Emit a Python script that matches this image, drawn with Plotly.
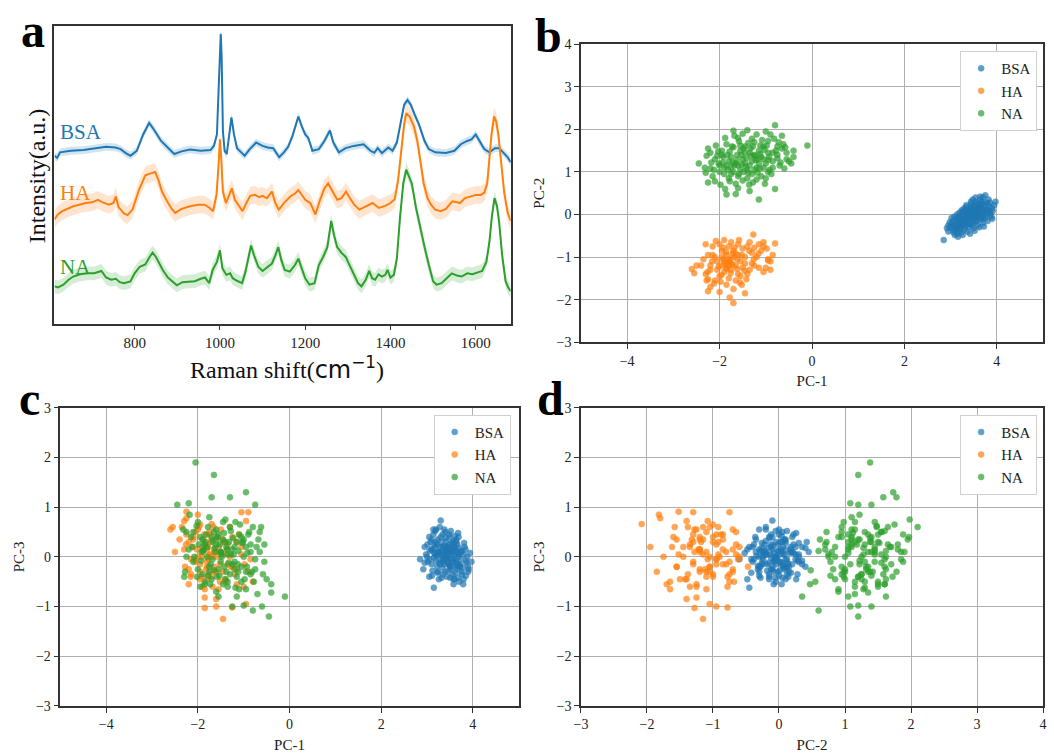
import plotly.graph_objects as go

# ---------------- Panel a: mean Raman spectra (offset, arbitrary units) ----------------
bsa_x = [612, 618, 625, 650, 680, 710, 733, 755, 767, 780, 790, 805, 820, 834, 845, 862, 880, 893, 910, 930,
         955, 978, 986, 993, 997, 1000, 1002, 1004, 1007, 1011, 1016, 1021, 1027, 1033, 1040, 1050, 1058, 1070,
         1085, 1100, 1112, 1125, 1139, 1150, 1160, 1170, 1184, 1192, 1200, 1207, 1217, 1232, 1245, 1258, 1266,
         1279, 1295, 1314, 1337, 1353, 1362, 1370, 1380, 1395, 1405, 1415, 1425, 1432, 1440, 1448, 1457, 1467,
         1480, 1490, 1505, 1530, 1550, 1565, 1580, 1590, 1600, 1610, 1620, 1632, 1645, 1655, 1665, 1675, 1682]
bsa_y = [171.3, 169, 174.7, 176.3, 177, 179, 180.3, 179.7, 178, 173.7, 171.3, 176.3, 193, 204.7, 198, 186.3,
         178, 173, 175.7, 177.7, 176.3, 177, 181.3, 193, 239.7, 289.7, 295.7, 273, 196.3, 176.3, 173, 189.7,
         210.3, 193, 179, 174.7, 171.3, 178, 184.7, 181.3, 179.7, 179, 169.7, 174.7, 180.3, 191.3, 211.3, 201.3,
         193, 189.7, 176.3, 178, 186.3, 197, 184.7, 174.7, 179, 181.3, 183, 176.3, 174.3, 179, 174, 179.7, 176.3,
         184.7, 209.7, 223, 228, 223, 213, 203, 186.3, 178, 174.7, 174, 176.3, 183, 186.3, 188, 193, 184.7, 178,
         174.7, 179, 179, 174.7, 169.7, 164.7]

ha_x = [612, 620, 630, 645, 656, 670, 685, 700, 714, 725, 740, 750, 756, 762, 775, 783, 795, 810, 825, 836,
        848, 856, 864, 876, 887, 895, 910, 930, 949, 964, 976, 984, 992, 997, 1000, 1003, 1007, 1014, 1021, 1028,
        1035, 1045, 1053, 1062, 1071, 1082, 1092, 1100, 1110, 1122, 1130, 1138, 1150, 1165, 1177, 1184, 1192,
        1200, 1212, 1224, 1235, 1245, 1254, 1264, 1275, 1285, 1296, 1305, 1315, 1327, 1340, 1358, 1373, 1389,
        1400, 1410, 1418, 1425, 1432, 1437, 1445, 1455, 1463, 1470, 1478, 1487, 1495, 1505, 1518, 1530, 1545,
        1556, 1563, 1575, 1590, 1600, 1612, 1620, 1627, 1632, 1637, 1643, 1648, 1653, 1660, 1667, 1675, 1682]
ha_y = [106.3, 111.3, 114.7, 118, 119.7, 121.3, 123, 123.7, 126.3, 123.7, 121.3, 123, 129.7, 119, 112.3, 110.7,
        116.3, 136.3, 151.3, 153, 154.7, 146.3, 134.7, 124.7, 117, 113, 117, 119.7, 121.3, 121.3, 118, 114.7,
        131.3, 163, 188, 169.7, 134.7, 123, 129.7, 138, 126.3, 119.7, 114.7, 123, 130.3, 131.3, 129, 130.3, 128,
        134.7, 123, 116.3, 123, 129.7, 133, 136.3, 131.3, 126.3, 123, 111.3, 126.3, 138, 143, 134.7, 126.3, 128,
        134.7, 128, 121.3, 116.3, 119, 123, 118, 120.3, 123, 127, 146.3, 176.3, 203, 214.7, 211.3, 201.3, 186.3,
        166.3, 143, 128, 121.3, 116.3, 114.7, 117, 124.7, 123.7, 123, 128, 129.7, 131.3, 131.3, 133.7, 143,
        166.3, 193, 211.3, 206.3, 193, 163, 133, 113, 104.7]

na_x = [612, 620, 633, 645, 656, 672, 690, 705, 722, 733, 745, 756, 765, 775, 790, 800, 812, 825, 835, 842,
        850, 858, 866, 878, 890, 899, 912, 925, 941, 955, 965, 975, 983, 993, 1000, 1006, 1015, 1024, 1030, 1040,
        1052, 1060, 1066, 1073, 1080, 1090, 1100, 1112, 1122, 1130, 1137, 1144, 1152, 1164, 1176, 1184, 1192,
        1200, 1210, 1222, 1232, 1242, 1252, 1261, 1268, 1275, 1285, 1295, 1304, 1315, 1324, 1332, 1342, 1350,
        1357, 1364, 1372, 1380, 1388, 1393, 1400, 1408, 1415, 1422, 1430, 1437, 1443, 1450, 1460, 1470, 1480,
        1490, 1500, 1508, 1520, 1532, 1544, 1556, 1567, 1580, 1592, 1605, 1615, 1625, 1632, 1638, 1644, 1650,
        1655, 1662, 1670, 1676, 1682]
na_y = [38, 37, 39.7, 44.7, 48, 50.3, 51.3, 51.3, 53.7, 47, 44.7, 45.7, 42.3, 41.3, 43, 51.3, 58, 60.3, 68, 72.3,
        68, 61.3, 54.7, 47, 42.3, 39, 42.3, 43, 43.3, 45.7, 47, 41.3, 54.7, 63, 74.7, 56.3, 49.7, 51.3, 46.3, 43.7,
        41.3, 53, 66.3, 79.7, 69.7, 58, 53.7, 58, 61.3, 69.7, 78, 64.7, 54.7, 53, 59.7, 66.3, 56.3, 46.3, 39.7,
        41.3, 59.7, 68, 78, 104.7, 89.7, 78, 72.3, 68, 59.7, 49.7, 41.3, 38, 44.7, 53.7, 46.3, 44.7, 50.3, 48,
        49.7, 54.7, 47, 49.7, 66.3, 106.3, 143, 157, 151.3, 143, 118, 96.3, 78, 59.7, 43.3, 39.7, 41.3, 46.3,
        51.3, 49, 48, 51.3, 50.3, 52.3, 53.7, 63, 83, 109.7, 128, 119.7, 103, 69.7, 43.3, 37, 33]

spectra_names = ["BSA", "HA", "NA"]
spectra_spread = [4, 9, 7]          # half-width of the shaded (std) band
spectra_label_y = [195, 133, 58]    # vertical position of the in-plot labels

# ---------------- PCA scores (PC-1, PC-2, PC-3) per sample ----------------
bsa_pc1 = [2.85, 3.75, 3.97, 3.10, 3.20, 3.30, 3.05, 3.15, 3.60, 3.85, 3.70, 3.40, 3.50, 3.25, 3.35, 3.45, 3.55,
           3.65, 3.28, 3.38, 3.48, 3.58, 3.18, 3.22, 3.32, 3.42, 3.52, 3.62, 3.72, 3.12, 3.00, 2.95, 3.08, 3.80,
           3.90, 3.68, 3.60, 3.50, 3.40, 3.30, 3.26, 3.36, 3.46, 3.56, 3.66, 3.76, 3.86, 3.14, 3.24, 3.34, 3.44,
           3.54, 3.64, 3.70, 3.20, 3.30, 3.40, 3.50, 3.60, 3.10, 3.16, 3.06, 2.98, 2.92, 3.44, 3.34, 3.24, 3.54,
           3.64, 3.74, 3.84, 3.94, 3.48, 3.38, 3.28, 3.18, 3.58, 3.68, 3.78, 3.88, 3.32, 3.42, 3.52, 3.62, 3.22,
           3.12, 3.02, 3.46, 3.56, 3.36, 3.26, 3.66, 3.76, 3.82, 3.16, 3.06, 3.70, 3.80, 3.90, 3.48,
           3.33, 3.43, 3.53, 3.63, 3.37, 3.47, 3.57, 3.27, 3.17, 3.67, 3.41, 3.51, 3.61, 3.31, 3.21, 3.71, 3.81,
           3.11, 3.01, 3.91, 3.35, 3.45, 3.55, 3.65, 3.25, 3.15, 3.75, 3.85, 3.05, 2.95, 3.39, 3.49, 3.59, 3.29,
           3.19, 3.69, 3.79, 3.09, 3.23, 3.44, 3.54, 3.64, 3.34, 3.14, 3.58, 3.68, 3.42, 3.52, 3.62, 3.72]
bsa_pc2 = [-0.60, 0.45, 0.30, -0.35, -0.20, -0.10, -0.15, -0.45, 0.10, 0.00, -0.05, 0.05, 0.20, -0.25, -0.05,
           0.00, 0.08, 0.15, -0.12, -0.18, -0.02, 0.12, -0.22, -0.30, 0.02, 0.10, -0.10, 0.00, 0.20, -0.10, -0.30,
           -0.40, -0.05, 0.25, 0.15, 0.30, 0.25, -0.20, -0.30, -0.35, -0.48, -0.40, -0.25, -0.15, -0.12, -0.08,
           0.05, 0.00, 0.10, 0.18, 0.25, 0.30, 0.35, 0.40, -0.08, -0.15, -0.08, 0.05, -0.02, -0.25, -0.38, -0.28,
           -0.18, -0.32, 0.14, 0.08, -0.02, 0.20, 0.08, 0.10, 0.18, 0.22, -0.12, 0.00, -0.20, -0.05, -0.08, 0.05,
           0.12, -0.05, -0.28, -0.20, 0.12, 0.18, -0.12, -0.18, -0.08, 0.06, 0.02, -0.06, 0.04, 0.22, 0.28, 0.35,
           -0.52, -0.42, -0.20, -0.15, -0.10, 0.35,
           -0.13, -0.03, 0.03, 0.13, -0.09, 0.01, 0.09, -0.16, -0.26, 0.16, -0.14, -0.06, 0.04, -0.24, -0.34, 0.06,
           0.10, -0.30, -0.22, 0.08, 0.12, 0.18, -0.16, -0.04, 0.06, -0.12, -0.02, 0.28, -0.36, -0.26, -0.22,
           -0.32, -0.26, 0.14, 0.04, -0.10, 0.04, -0.48, -0.42, 0.30, 0.40, 0.42, 0.22, -0.30, 0.26, 0.26, -0.45,
           -0.38, -0.30, -0.28]
bsa_pc3 = [-0.05, 0.10, -0.10, 0.35, 0.55, 0.73, -0.40, -0.62, -0.45, -0.38, -0.50, 0.50, 0.40, 0.10, 0.00,
           -0.10, 0.05, -0.20, 0.20, -0.15, 0.25, -0.05, 0.05, -0.20, 0.30, 0.15, -0.25, 0.12, -0.15, 0.15, 0.00,
           0.20, 0.30, 0.05, -0.30, 0.00, 0.20, 0.10, -0.30, 0.10, -0.45, -0.10, 0.00, -0.35, -0.25, -0.30, -0.12,
           0.45, 0.35, 0.20, -0.05, 0.28, -0.08, 0.18, -0.08, 0.40, 0.08, -0.18, 0.02, -0.15, 0.25, 0.12, 0.05,
           -0.25, -0.40, -0.22, -0.30, 0.10, 0.35, -0.05, 0.15, 0.08, 0.45, 0.55, 0.60, 0.52, -0.55, -0.42, -0.22,
           0.00, -0.42, 0.32, 0.52, -0.32, 0.25, -0.28, -0.10, 0.20, -0.10, -0.05, 0.10, 0.25, -0.35, 0.20, 0.08,
           -0.05, 0.05, -0.45, -0.20, -0.15,
           0.05, -0.02, 0.15, -0.12, 0.22, -0.28, 0.32, -0.12, 0.18, 0.08, 0.38, -0.42, 0.42, -0.05, 0.02, -0.18,
           0.28, -0.38, 0.25, -0.25, -0.35, 0.10, 0.18, -0.15, 0.05, -0.02, 0.12, -0.08, 0.40, -0.12, 0.12, -0.18,
           0.28, -0.15, 0.30, 0.40, -0.55, 0.15, -0.32, 0.05, -0.20, 0.30, 0.45, 0.55, -0.45, 0.48, 0.20, -0.05,
           0.15, -0.20]

ha_pc1 = [-1.70, -2.60, -2.55, -2.50, -2.25, -2.00, -1.45, -1.27, -0.80, -0.90, -0.95, -2.25, -1.05, -1.45,
          -1.85, -1.60, -1.25, -0.95, -2.20, -1.85, -2.30, -2.20, -2.10, -2.00, -1.90, -1.80, -1.70, -1.60, -1.50,
          -1.40, -1.30, -1.20, -1.10, -1.00, -1.90, -1.80, -1.75, -1.85, -1.70, -1.65, -1.95, -2.05, -2.15, -1.55,
          -1.45, -1.35, -1.60, -1.80, -2.00, -2.10, -1.90, -1.75, -1.65, -1.55, -1.85, -1.70, -2.20, -2.35, -2.30,
          -2.25, -2.15, -1.95, -1.75, -1.58, -1.35, -1.15, -1.05, -0.85, -1.25, -1.40, -1.30, -1.15, -1.05, -0.90,
          -1.50, -1.95, -2.05, -2.40, -1.80, -1.78, -1.88, -1.72, -1.62, -1.92, -2.12, -1.52, -1.42, -2.28, -1.98,
          -1.68,
          -1.82, -1.72, -1.92, -1.62, -1.52, -2.02, -1.86, -1.76, -1.66, -1.96, -1.46, -2.16, -1.36, -1.26, -2.26,
          -1.56, -1.16, -0.98, -1.78, -2.08]
ha_pc2 = [-2.08, -1.28, -1.38, -1.20, -1.80, -1.82, -1.85, -0.47, -0.68, -1.30, -1.08, -1.52, -0.75, -1.15,
          -1.28, -0.95, -0.78, -1.05, -1.70, -1.25, -1.40, -1.30, -1.00, -0.70, -0.60, -0.75, -0.85, -0.70, -0.80,
          -0.75, -0.90, -1.00, -0.85, -1.25, -1.10, -1.05, -1.15, -0.95, -1.00, -1.20, -1.20, -1.10, -0.95, -1.10,
          -1.00, -1.30, -1.40, -1.50, -1.45, -1.55, -1.35, -1.30, -1.55, -1.45, -1.65, -1.75, -1.20, -1.05, -0.70,
          -0.95, -0.75, -0.85, -0.65, -0.60, -0.65, -0.70, -0.65, -0.95, -1.20, -1.40, -1.15, -1.25, -1.35, -1.10,
          -1.25, -1.00, -1.30, -1.20, -1.20, -1.08, -1.15, -0.92, -1.05, -0.78, -1.62, -1.65, -1.52, -1.55, -1.58,
          -0.78,
          -1.12, -1.18, -1.05, -1.28, -0.95, -1.22, -0.88, -1.38, -0.92, -1.42, -1.32, -1.10, -0.85, -1.05, -1.35,
          -1.60, -0.92, -0.80, -1.95, -0.62]
ha_pc3 = [0.66, 0.55, 0.60, 0.10, 0.78, 0.85, -0.30, -0.20, -0.50, 0.90, 0.72, 0.91, 0.90, -1.25, -1.03, -1.00,
          -1.02, -0.95, -0.55, -0.82, 0.72, 0.30, 0.40, 0.55, 0.20, -0.10, 0.35, -0.30, 0.10, -0.50, 0.00, -0.35,
          0.45, -0.60, 0.10, -0.20, 0.05, 0.25, -0.40, 0.15, -0.30, 0.50, -0.05, -0.65, 0.30, -0.15, -0.85, -0.45,
          0.00, 0.35, -0.60, 0.45, -0.20, 0.20, -0.65, 0.00, -0.25, 0.60, 0.15, 0.45, -0.35, -0.15, 0.50, 0.00,
          0.25, -0.25, 0.05, -0.05, 0.40, -0.45, 0.60, -0.55, 0.20, -0.30, 0.55, 0.65, -0.10, 0.35, 0.15, -0.05,
          0.35, 0.05, -0.30, -0.40, 0.20, -0.50, 0.05, -0.20, 0.60, -0.60,
          -0.25, 0.30, 0.00, 0.10, -0.15, 0.15, 0.45, -0.35, 0.60, -0.45, 0.35, -0.40, 0.15, -0.20, 0.25, 0.40,
          0.30, -0.15, 0.20, -0.05]

na_pc1 = [-2.05, -1.65, -0.95, -1.30, -2.45, -2.20, -0.75, -1.70, -0.10, -0.45, -0.60, -0.80, -1.25, -1.00,
          -0.40, -2.30, -1.15, -1.65, -1.85, -0.80, -2.25, -1.40, -1.70, -0.90, -0.65, -0.55, -0.40, -0.50, -0.65,
          -0.70, -0.85, -0.95, -1.05, -1.10, -1.20, -1.30, -1.40, -1.50, -1.60, -1.70, -1.80, -1.90, -2.00, -2.10,
          -2.20, -2.15, -1.95, -1.85, -1.75, -1.55, -1.45, -1.35, -1.25, -1.15, -1.05, -0.95, -0.85, -0.75, -1.60,
          -1.50, -1.40, -1.30, -1.20, -1.10, -1.00, -1.80, -1.90, -2.00, -2.10, -2.25, -1.75, -1.55, -1.45, -1.35,
          -1.25, -1.15, -1.05, -0.95, -0.85, -0.75, -0.62, -0.55, -1.62, -1.72, -1.82, -1.92, -2.02, -1.52, -1.42,
          -1.32, -1.22, -1.12, -1.48, -1.38, -1.58, -1.78, -1.88, -1.68, -1.08, -0.98, -1.18, -1.28, -1.60, -2.18,
          -1.98, -0.88, -0.78, -0.68, -1.35, -1.45, -1.55, -1.65, -1.75, -1.85, -1.95, -2.08, -2.28, -0.92, -1.02,
          -1.12,
          -1.63, -1.53, -1.43, -1.33, -1.23, -1.73, -1.83, -1.93, -2.03, -1.13, -1.03, -0.93, -1.58, -1.48, -1.38,
          -1.28, -1.18, -1.68, -1.78, -1.88, -2.12, -2.32, -0.72, -0.82, -0.58, -1.50, -1.20, -1.00, -1.60, -1.36]
na_pc2 = [1.38, 1.20, 1.73, 1.78, 1.20, 1.08, 1.40, 1.58, 1.62, 1.20, 1.08, 0.60, 1.40, 1.20, 1.35, 0.98, 0.35,
          0.48, 0.47, 2.10, 0.75, 1.98, 1.97, 1.88, 1.85, 1.30, 1.50, 1.25, 1.55, 1.15, 1.45, 1.00, 1.60, 1.35,
          1.10, 1.25, 1.05, 1.30, 1.15, 1.00, 1.25, 1.10, 1.00, 1.30, 1.45, 0.90, 1.50, 1.65, 1.35, 1.50, 1.60,
          1.45, 1.70, 1.50, 1.30, 1.45, 1.25, 1.60, 0.90, 0.80, 0.85, 0.95, 0.82, 0.90, 0.85, 0.85, 0.95, 1.15,
          0.78, 1.55, 1.10, 1.05, 1.20, 1.15, 1.05, 1.20, 1.10, 1.28, 1.10, 1.32, 1.65, 1.45, 1.40, 1.22, 1.05,
          1.35, 1.20, 1.18, 1.32, 1.38, 1.28, 1.42, 1.00, 1.68, 1.72, 1.48, 1.80, 1.85, 1.75, 1.62, 0.98, 0.75,
          0.62, 1.22, 0.70, 0.95, 1.50, 1.22, 0.55, 1.45, 1.62, 0.72, 0.95, 1.15, 1.40, 1.62, 1.38, 1.05, 0.72,
          1.62,
          1.28, 1.40, 1.12, 1.55, 1.38, 1.60, 1.40, 1.22, 1.48, 1.08, 1.52, 1.35, 0.95, 1.55, 0.98, 1.60, 1.30,
          1.15, 0.78, 0.60, 1.05, 1.10, 1.70, 1.78, 1.58, 1.90, 1.88, 1.95, 1.80, 0.70]
na_pc3 = [1.90, 1.65, 1.30, 1.20, 1.05, 1.08, 1.05, 1.20, -0.80, -1.20, -1.00, -1.08, -1.00, -0.98, -0.72,
          -0.40, -0.80, -0.27, -0.55, 0.60, 0.00, 0.75, 0.40, 0.45, 0.10, 0.25, -0.55, -0.45, 0.50, -0.75, 0.10,
          -0.30, -0.20, 0.45, 0.20, -0.35, 0.30, -0.10, 0.55, -0.45, 0.00, 0.35, -0.25, 0.50, 0.15, 0.40, -0.60,
          0.25, -0.30, 0.45, -0.55, 0.05, -0.15, 0.30, -0.50, 0.20, -0.35, -0.05, -0.70, 0.10, -0.45, 0.60, -0.25,
          -0.65, 0.00, 0.20, -0.35, 0.70, -0.10, 0.50, 0.80, -0.80, 0.35, -0.60, 0.15, -0.40, 0.40, -0.65, 0.25,
          -0.25, 0.60, -0.10, 0.10, -0.15, 0.45, 0.10, -0.40, 0.25, -0.20, 0.30, 0.05, -0.30, 0.00, 0.20, -0.40,
          0.60, 0.15, -0.05, 0.65, -0.45, 0.70, 0.05, 0.35, 0.85, 0.25, 0.50, -0.50, 0.35, -0.50, 0.70, -0.25,
          0.50, -0.20, -0.50, 0.40, 0.00, -0.30, 0.08, 0.30, 0.12,
          0.18, -0.38, 0.48, -0.12, 0.38, -0.55, 0.30, -0.08, 0.62, -0.15, 0.28, -0.20, 0.40, 0.05, -0.30, 0.52,
          -0.62, 0.30, -0.38, 0.12, 0.20, 0.55, 0.20, -0.30, -0.35, 0.10, -0.10, 0.35, 0.25, 0.15]

class_names = ["BSA", "HA", "NA"]
colors = ["#1f77b4", "#ff7f0e", "#2ca02c"]
band_colors = ["rgba(31,119,180,0.2)", "rgba(255,127,14,0.2)", "rgba(44,160,44,0.2)"]

serif = "Liberation Serif"
fig = go.Figure()

# ----- panel a -----
spectra = [(bsa_x, bsa_y), (ha_x, ha_y), (na_x, na_y)]
for (sx, sy), name, col, bcol, sp in zip(spectra, spectra_names, colors, band_colors, spectra_spread):
    upper = [v + sp for v in sy]
    lower = [v - sp for v in sy]
    fig.add_trace(go.Scatter(x=sx + sx[::-1], y=upper + lower[::-1], fill="toself", fillcolor=bcol,
                             line=dict(width=0), hoverinfo="skip", showlegend=False, xaxis="x", yaxis="y"))
    fig.add_trace(go.Scatter(x=sx, y=sy, mode="lines", line=dict(color=col, width=2), name=name,
                             showlegend=False, xaxis="x", yaxis="y"))

# ----- panels b, c, d -----
scores = [(bsa_pc1, bsa_pc2, bsa_pc3), (ha_pc1, ha_pc2, ha_pc3), (na_pc1, na_pc2, na_pc3)]
panels = [("x2", "y2", 0, 1, "legend"), ("x3", "y3", 0, 2, "legend2"), ("x4", "y4", 1, 2, "legend3")]
for xa, ya, ix, iy, lg in panels:
    for sc, name, col in zip(scores, class_names, colors):
        fig.add_trace(go.Scatter(x=sc[ix], y=sc[iy], mode="markers", name=name,
                                 marker=dict(color=col, size=6, opacity=0.7, line=dict(color=col, width=0.6)),
                                 xaxis=xa, yaxis=ya, legend=lg))

W, H = 1054, 756
def dx(a, b):
    return [a / W, b / W]
def dy(top, bottom):
    return [1 - bottom / H, 1 - top / H]

tickfont = dict(family=serif, size=14, color="#222")
base = dict(showline=True, mirror=True, linecolor="#333", linewidth=1.5, ticks="outside", ticklen=5,
            tickcolor="#333", tickwidth=1.2, showgrid=True, gridcolor="#b0b0b0", gridwidth=1, zeroline=False,
            tickfont=tickfont)
titlefont = dict(family=serif, size=15, color="#222")

legend_style = dict(bgcolor="white", bordercolor="#d0d0d0", borderwidth=1, xanchor="right", yanchor="top",
                    font=dict(family=serif, size=15, color="#222"), tracegroupgap=0, itemwidth=30)

fig.update_layout(
    width=W, height=H, margin=dict(l=0, r=0, t=0, b=0),
    paper_bgcolor="white", plot_bgcolor="white",
    xaxis=dict(base, domain=dx(48, 509), anchor="y", range=[612, 1682], showgrid=False,
               tickvals=[800, 1000, 1200, 1400, 1600], tickfont=dict(family=serif, size=15, color="#222")),
    yaxis=dict(base, domain=dy(19, 323), anchor="x", range=[0, 304], showgrid=False, ticks="",
               showticklabels=False),
    xaxis2=dict(base, domain=dx(580, 1047), anchor="y2", range=[-5, 5], tickvals=[-4, -2, 0, 2, 4],
                title=dict(text="PC-1", font=titlefont, standoff=8)),
    yaxis2=dict(base, domain=dy(38, 342), anchor="x2", range=[-3, 4], dtick=1,
                title=dict(text="PC-2", font=titlefont, standoff=8)),
    xaxis3=dict(base, domain=dx(54, 517), anchor="y3", range=[-5, 5], tickvals=[-4, -2, 0, 2, 4],
                title=dict(text="PC-1", font=titlefont, standoff=8)),
    yaxis3=dict(base, domain=dy(409, 713), anchor="x3", range=[-3, 3], dtick=1,
                title=dict(text="PC-3", font=titlefont, standoff=8)),
    xaxis4=dict(base, domain=dx(580, 1047), anchor="y4", range=[-3, 4], dtick=1,
                title=dict(text="PC-2", font=titlefont, standoff=8)),
    yaxis4=dict(base, domain=dy(409, 713), anchor="x4", range=[-3, 3], dtick=1,
                title=dict(text="PC-3", font=titlefont, standoff=8)),
    legend=dict(legend_style, x=1041 / W, y=1 - 45 / H),
    legend2=dict(legend_style, x=509 / W, y=1 - 416 / H),
    legend3=dict(legend_style, x=1041 / W, y=1 - 416 / H),
    showlegend=True,
)

annotations = []
for name, col, ly in zip(spectra_names, colors, spectra_label_y):
    annotations.append(dict(x=620, y=ly, xref="x", yref="y", text=name, showarrow=False, xanchor="left",
                            yanchor="middle", font=dict(family=serif, size=21, color=col)))
annotations.append(dict(x=30 / W, y=1 - 172 / H, xref="paper", yref="paper", text="Intensity(a.u.)",
                        textangle=-90, showarrow=False, xanchor="center", yanchor="middle",
                        font=dict(family=serif, size=24, color="#111")))
annotations.append(dict(x=283 / W, y=1 - 368 / H, xref="paper", yref="paper",
                        text="Raman shift(<span style='font-family:DejaVu Sans'>cm<sup>−1</sup></span>)",
                        showarrow=False, xanchor="center", yanchor="middle",
                        font=dict(family=serif, size=24, color="#111")))
for letter, lx, ly in [("a", 12, 53), ("b", 532, 58), ("c", 10, 428), ("d", 534, 428)]:
    annotations.append(dict(x=lx / W, y=1 - ly / H, xref="paper", yref="paper", text="<b>" + letter + "</b>",
                            showarrow=False, xanchor="left", yanchor="bottom",
                            font=dict(family=serif, size=48, color="black")))
fig.update_layout(annotations=annotations)

fig.write_html("out.html", config={"displayModeBar": False},
               post_script="document.body.style.margin='0';")
